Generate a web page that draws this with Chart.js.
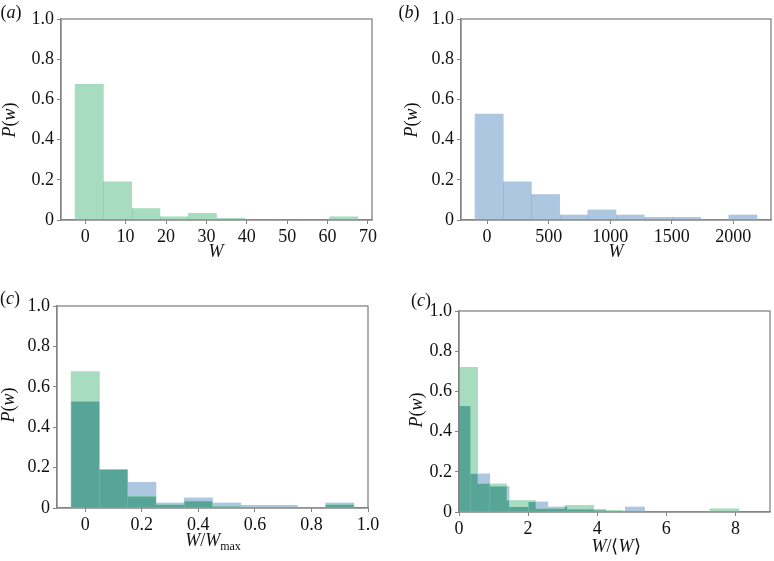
<!DOCTYPE html>
<html><head><meta charset="utf-8">
<script src="https://cdn.jsdelivr.net/npm/chart.js@4.4.1/dist/chart.umd.min.js"></script>
<style>
html,body{margin:0;padding:0;background:#fff;}
#wrap{position:relative;width:774px;height:561px;overflow:hidden;font-family:"Liberation Serif",serif;color:#111;}
canvas{position:absolute;left:0;top:0;}
.t{position:absolute;font-size:18px;white-space:nowrap;line-height:1;}
.c{transform:translate(-50%,-50%);}
.r{transform:translate(-50%,-50%) rotate(-90deg);}
sub{font-size:12px;vertical-align:-4px;font-style:normal;}
</style></head><body>
<div id="wrap">
<canvas id="ca" width="774" height="561"></canvas>
<canvas id="cb" width="774" height="561"></canvas>
<canvas id="cc" width="774" height="561"></canvas>
<canvas id="cd" width="774" height="561"></canvas>

<div class="t c" style="left:11px;top:12px">(<i>a</i>)</div>
<div class="t c" style="left:409px;top:12px">(<i>b</i>)</div>
<div class="t c" style="left:10px;top:298px">(<i>c</i>)</div>
<div class="t c" style="left:421px;top:300px">(<i>c</i>)</div>

<div class="t r" style="left:9px;top:120px"><i>P</i>(<i>w</i>)</div>
<div class="t r" style="left:411px;top:120px"><i>P</i>(<i>w</i>)</div>
<div class="t r" style="left:8px;top:405px"><i>P</i>(<i>w</i>)</div>
<div class="t r" style="left:416px;top:410px"><i>P</i>(<i>w</i>)</div>

<div class="t c" style="left:216px;top:251px"><i>W</i></div>
<div class="t c" style="left:616px;top:251px"><i>W</i></div>
<div class="t c" style="left:213px;top:541px"><i>W</i>/<i>W</i><sub>max</sub></div>
<div class="t c" style="left:616px;top:546px"><i>W</i>/⟨<i>W</i>⟩</div>
</div>
<script>
// ---------------- data ----------------
const yTicks = [0, 0.2, 0.4, 0.6, 0.8, 1.0];
const yLabels = ['0', '0.2', '0.4', '0.6', '0.8', '1.0'];

// (a) W histogram (green)
const edgesA = [-2.5, 4.5, 11.5, 18.5, 25.5, 32.5, 39.5, 46.5, 53.5, 60.5, 67.5];
const probA  = [0.675, 0.19, 0.057, 0.016, 0.033, 0.008, 0, 0, 0, 0.016];
const xlimA = [-6, 71];
const xTicksA = [0, 10, 20, 30, 40, 50, 60, 70];
const xLabelsA = ['0', '10', '20', '30', '40', '50', '60', '70'];

// (b) W histogram (blue)
const edgesB = [-98, 131, 360, 589, 818, 1047, 1276, 1505, 1734, 1963, 2192];
const probB  = [0.527, 0.19, 0.127, 0.025, 0.05, 0.025, 0.013, 0.013, 0, 0.025];
const xlimB = [-212, 2306];
const xTicksB = [0, 500, 1000, 1500, 2000];
const xLabelsB = ['0', '500', '1000', '1500', '2000'];

// (c) W / Wmax
const edgesC = [-0.05, 0.05, 0.15, 0.25, 0.35, 0.45, 0.55, 0.65, 0.75, 0.85, 0.95];
const probCGreen = [0.675, 0.19, 0.057, 0.016, 0.033, 0.008, 0, 0, 0, 0.016];
const probCBlue  = [0.527, 0.19, 0.127, 0.025, 0.05, 0.025, 0.013, 0.013, 0, 0.025];
const xlimC = [-0.1, 1.0];
const xTicksC = [0, 0.2, 0.4, 0.6, 0.8, 1.0];
const xLabelsC = ['0', '0.2', '0.4', '0.6', '0.8', '1.0'];

// (d) W / <W>
const edgesDGreen = [-0.30, 0.54, 1.38, 2.22, 3.06, 3.90, 4.74, 5.58, 6.42, 7.26, 8.10];
const probDGreen  = [0.72, 0.14, 0.057, 0.016, 0.033, 0.008, 0, 0, 0, 0.016];
const edgesDBlue  = [-0.23, 0.33, 0.89, 1.45, 2.01, 2.57, 3.13, 3.69, 4.25, 4.81, 5.37];
const probDBlue   = [0.527, 0.19, 0.127, 0.025, 0.05, 0.025, 0.013, 0.013, 0, 0.025];
const xlimD = [0, 9];
const xTicksD = [0, 2, 4, 6, 8];
const xLabelsD = ['0', '2', '4', '6', '8'];

// ---------------- style ----------------
const FONT = '"Liberation Serif", serif';
Chart.defaults.font.family = FONT;
Chart.defaults.font.size = 18;
Chart.defaults.color = '#111';
const TXT = '#111';
const FRAME = '#858585';
const GREEN = '#a8dcc0';
const BLUE = '#adc7e1';
const TEAL = '#57a597';
const YW = 45, XH = 30;

function binPoints(edges, probs) {
  return probs.map((p, i) => ({ x: (edges[i] + edges[i + 1]) / 2, y: p }));
}

function xScale(lim, ticks, labels, show) {
  return {
    type: 'linear', min: lim[0], max: lim[1], offset: false, display: show,
    afterBuildTicks: s => { s.ticks = ticks.map(v => ({ value: v })); },
    afterFit: s => { s.height = show ? XH : 0; },
    grid: { display: true, drawOnChartArea: false, drawTicks: true, tickLength: 4, color: FRAME, lineWidth: 1, offset: false },
    border: { display: true, color: FRAME, width: 1.3 },
    ticks: { autoSkip: false, maxRotation: 0, minRotation: 0, padding: 2, color: TXT,
             font: { family: FONT, size: 18 }, callback: (v, i) => labels[i] }
  };
}
function yScale() {
  return {
    type: 'linear', min: 0, max: 1,
    afterBuildTicks: s => { s.ticks = yTicks.map(v => ({ value: v })); },
    afterFit: s => { s.width = YW; },
    grid: { display: true, drawOnChartArea: false, drawTicks: true, tickLength: 4, color: FRAME, lineWidth: 1 },
    border: { display: true, color: FRAME, width: 1.3 },
    ticks: { padding: 3, color: TXT, font: { family: FONT, size: 18 }, callback: (v, i) => yLabels[i] }
  };
}
function ds(edges, probs, color, axis, edgeColor) {
  return { data: binPoints(edges, probs), backgroundColor: color, borderWidth: 0, edgeColor,
           barPercentage: 1, categoryPercentage: 1, grouped: false, clip: 0, xAxisID: axis || 'x' };
}

function barRect(el) {
  const p = el.getProps(['x', 'y', 'base', 'width'], true);
  return [p.x - p.width / 2, Math.min(p.y, p.base), p.width, Math.abs(p.base - p.y)];
}

// faint seams where neighbouring bars meet (as in the reference)
const seamPlugin = {
  id: 'seams',
  afterDatasetsDraw(chart) {
    const ctx = chart.ctx;
    chart.data.datasets.forEach((d, di) => {
      if (!d.edgeColor) return;
      const els = chart.getDatasetMeta(di).data;
      ctx.save();
      ctx.strokeStyle = d.edgeColor; ctx.lineWidth = 1;
      for (let i = 1; i < els.length; i++) {
        const r = barRect(els[i]), q = barRect(els[i - 1]);
        const h = Math.min(r[3], q[3]);
        if (h <= 0) continue;
        const x = Math.round(r[0]) + 0.5;
        ctx.beginPath(); ctx.moveTo(x, r[1] + r[3]); ctx.lineTo(x, r[1] + r[3] - h); ctx.stroke();
      }
      ctx.restore();
    });
  }
};

const framePlugin = {
  id: 'frame',
  afterDraw(chart) {
    const { ctx, chartArea: a } = chart;
    ctx.save();
    ctx.strokeStyle = FRAME; ctx.lineWidth = 1.3;
    ctx.strokeRect(a.left, a.top, a.right - a.left, a.bottom - a.top);
    ctx.restore();
  }
};
const overlapPlugin = {
  id: 'overlap',
  afterDatasetsDraw(chart, args, opts) {
    const ctx = chart.ctx, a = chart.chartArea;
    const g = chart.getDatasetMeta(0).data, b = chart.getDatasetMeta(1).data;
    ctx.save();
    ctx.beginPath(); ctx.rect(a.left, a.top, a.right - a.left, a.bottom - a.top); ctx.clip();
    ctx.beginPath();
    g.forEach(el => { const r = barRect(el); if (r[3] > 0) ctx.rect(r[0], r[1], r[2], r[3]); });
    ctx.clip();
    ctx.fillStyle = opts.color;
    b.forEach(el => { const r = barRect(el); if (r[3] > 0) ctx.fillRect(r[0], r[1], r[2], r[3]); });
    ctx.restore();
  }
};

function panel(id, area, scales, datasets, overlap) {
  new Chart(document.getElementById(id), {
    type: 'bar',
    data: { datasets },
    options: {
      responsive: false, animation: false, devicePixelRatio: 1,
      layout: { padding: { left: area.l - YW, top: area.t, right: 774 - area.r, bottom: 561 - area.b - XH } },
      plugins: { legend: { display: false }, tooltip: { enabled: false }, overlap: { color: TEAL } },
      scales
    },
    plugins: overlap ? [overlapPlugin, framePlugin] : [seamPlugin, framePlugin]
  });
}

panel('ca', { l: 61, t: 19, r: 372, b: 220 },
  { x: xScale(xlimA, xTicksA, xLabelsA, true), y: yScale() },
  [ds(edgesA, probA, GREEN, 'x', '#97d0b1')], false);

panel('cb', { l: 461, t: 19, r: 771, b: 220 },
  { x: xScale(xlimB, xTicksB, xLabelsB, true), y: yScale() },
  [ds(edgesB, probB, BLUE, 'x', '#9bb8d6')], false);

panel('cc', { l: 57, t: 306, r: 368, b: 508 },
  { x: xScale(xlimC, xTicksC, xLabelsC, true), y: yScale() },
  [ds(edgesC, probCGreen, GREEN), ds(edgesC, probCBlue, BLUE)], true);

panel('cd', { l: 459, t: 311, r: 770, b: 512 },
  { x: xScale(xlimD, xTicksD, xLabelsD, true), x2: xScale(xlimD, xTicksD, xLabelsD, false), y: yScale() },
  [ds(edgesDGreen, probDGreen, GREEN), ds(edgesDBlue, probDBlue, BLUE, 'x2')], true);
</script>
</body></html>
